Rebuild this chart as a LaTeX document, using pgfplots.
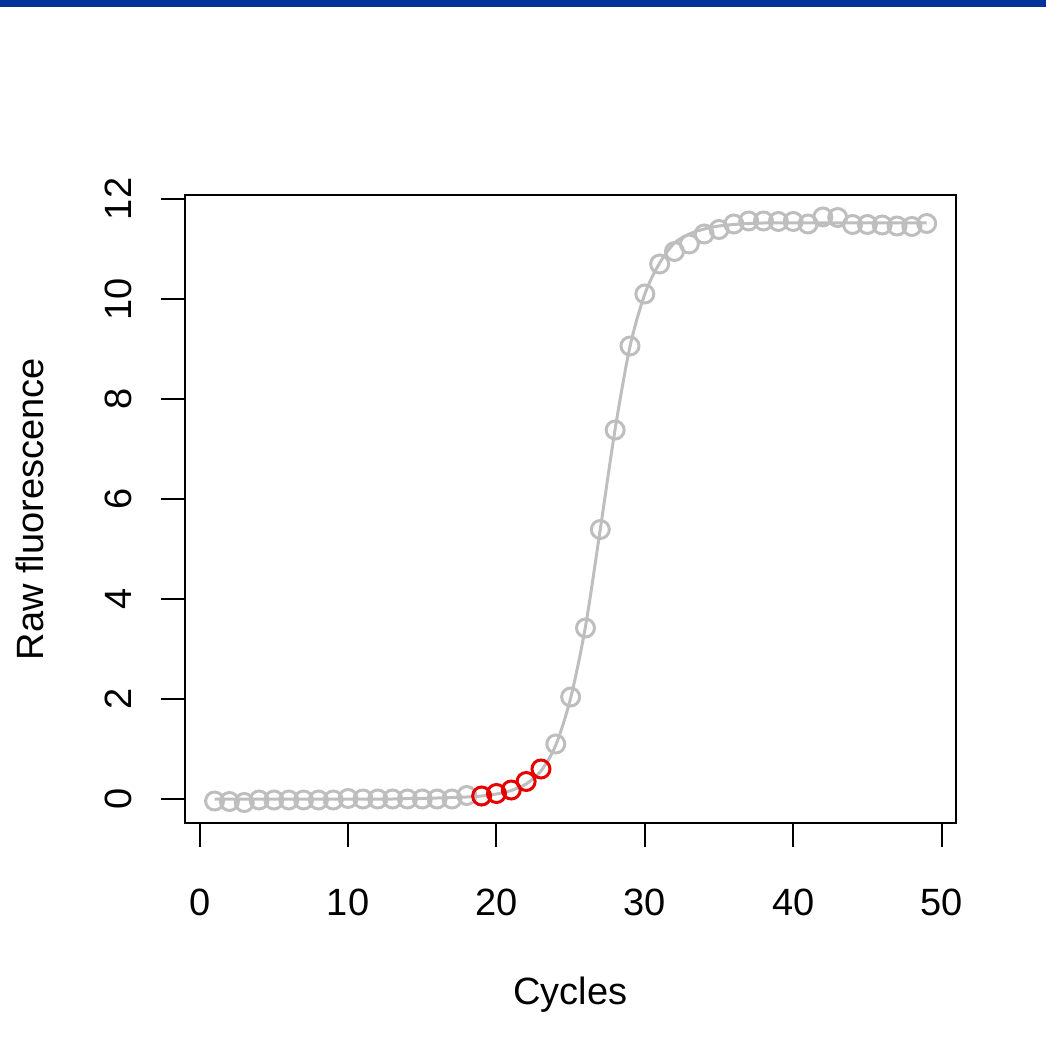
\documentclass[border=0pt]{standalone}
\usepackage{fontspec}
\setmainfont{Liberation Sans}
\usepackage{pgfplots}
\pgfplotsset{compat=1.18}
\definecolor{topblue}{RGB}{0,51,153}
\definecolor{ptgray}{RGB}{190,190,190}
\definecolor{rred}{RGB}{230,0,0}
\begin{document}
\begin{tikzpicture}
\path (0,0) rectangle (523pt,525pt);
\fill[topblue] (0,521.5pt) rectangle (523pt,525pt);
\begin{axis}[
  at={(92.75pt,113.5pt)}, anchor=south west,
  scale only axis, width=385pt, height=313.75pt,
  xmin=-0.96, xmax=50.94, ymin=-0.48, ymax=12.07,
  xtick={0,10,...,50}, ytick={0,2,...,12},
  xtick pos=lower, ytick pos=lower,
  tick align=outside, major tick length=12pt,
  axis line style={line width=1pt, black},
  every tick/.style={line width=1pt, black},
  /pgf/number format/assume math mode=true,
  ticklabel style={font=\fontsize{19}{22}\selectfont},
  xticklabel style={anchor=base, yshift=-34pt},
  yticklabel style={rotate=90, anchor=base, yshift=14.75pt},
  xlabel={Cycles}, ylabel={Raw fluorescence},
  label style={font=\fontsize{19}{22}\selectfont},
  xlabel style={at={(axis description cs:0.5,-0.290)}, anchor=base},
  ylabel style={at={(axis description cs:-0.185,0.5)}, anchor=base, rotate=0},
  clip=false,
]
\addplot[only marks, mark=o, mark size=4.5pt, mark options={line width=1.5pt, ptgray}] coordinates {
(1,-0.04)(2,-0.05)(3,-0.07)(4,-0.02)(5,-0.02)(6,-0.02)(7,-0.02)(8,-0.02)(9,-0.02)
(10,0.01)(11,0.00)(12,0.00)(13,0.00)(14,0.00)(15,0.00)(16,0.00)(17,0.00)(18,0.07)
(24,1.10)(25,2.04)(26,3.42)(27,5.39)(28,7.38)(29,9.06)(30,10.10)
(31,10.70)(32,10.95)(33,11.10)(34,11.30)(35,11.39)(36,11.50)(37,11.56)(38,11.56)
(39,11.55)(40,11.55)(41,11.50)(42,11.64)(43,11.63)(44,11.49)(45,11.49)(46,11.48)
(47,11.46)(48,11.45)(49,11.51)
};
\addplot[ptgray, line width=1.5pt, smooth, no marks] coordinates {
(1,0.00)(2,0.00)(3,0.00)(4,0.00)(5,0.00)(6,0.00)(7,0.00)(8,0.00)(9,0.00)(10,0.00)
(11,0.00)(12,0.00)(13,0.00)(14,0.01)(15,0.01)(16,0.02)(17,0.03)(18,0.04)(19,0.06)
(20,0.10)(21,0.17)(22,0.30)(23,0.56)(24,1.08)(25,2.02)(26,3.45)(27,5.40)(28,7.40)
(29,9.05)(30,10.10)(31,10.72)(32,11.12)(33,11.30)(34,11.40)(35,11.46)(36,11.49)
(37,11.51)(38,11.52)(39,11.52)(40,11.52)(41,11.52)(42,11.52)(43,11.52)(44,11.52)
(45,11.52)(46,11.52)(47,11.52)(48,11.52)(49,11.52)
};
\addplot[only marks, mark=o, mark size=4.5pt, mark options={line width=1.5pt, rred}] coordinates {
(19,0.06)(20,0.11)(21,0.18)(22,0.35)(23,0.60)
};
\end{axis}
\end{tikzpicture}
\end{document}
